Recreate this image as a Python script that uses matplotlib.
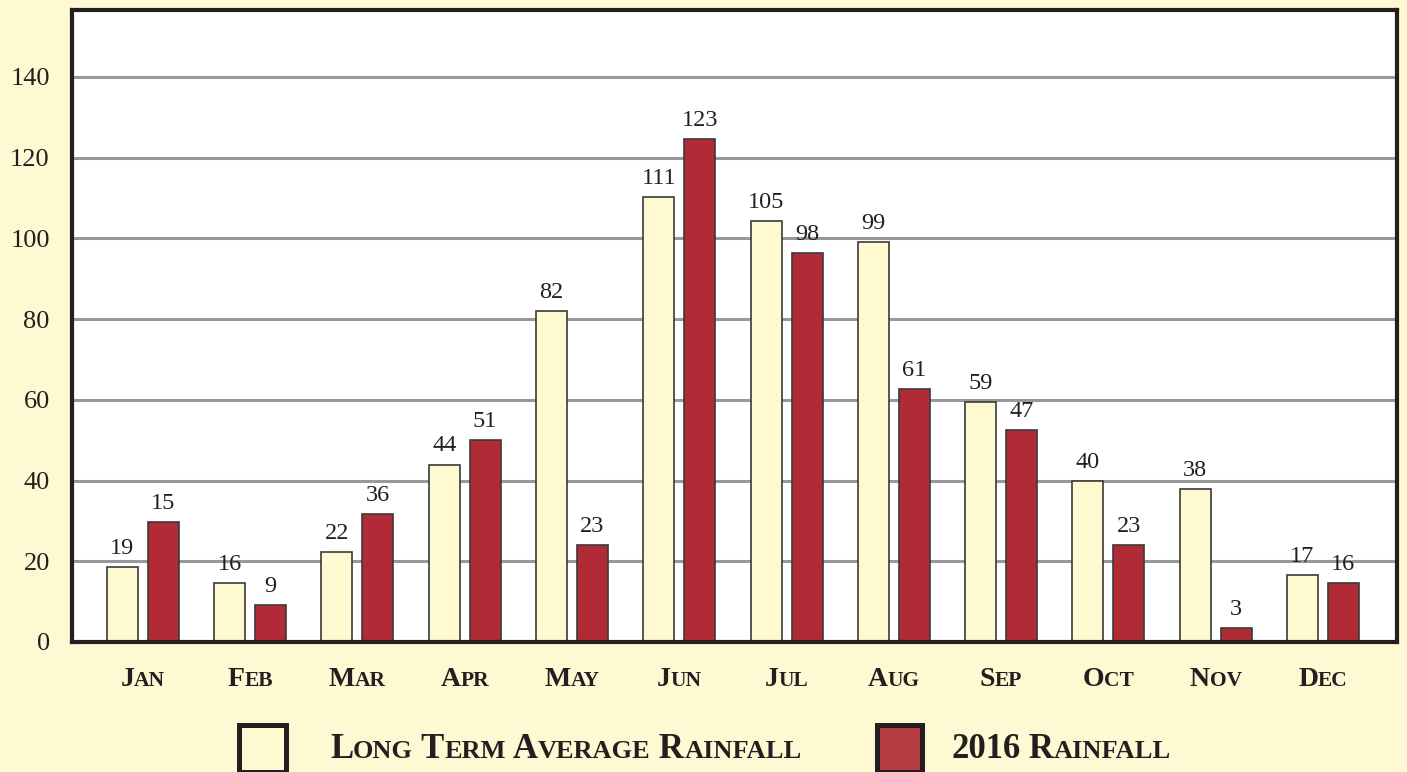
import matplotlib
matplotlib.use("Agg")
import matplotlib.pyplot as plt
import numpy as np
from matplotlib.offsetbox import TextArea, HPacker, AnnotationBbox
from matplotlib.patches import Rectangle

months = ["Jan", "Feb", "Mar", "Apr", "May", "Jun",
          "Jul", "Aug", "Sep", "Oct", "Nov", "Dec"]
# bar heights as drawn in the picture
lta_heights = [18.6, 14.6, 22.3, 43.9, 82, 110.3, 104.3, 99.1, 59.5, 39.9, 37.9, 16.6]
r2016_heights = [29.7, 9.2, 31.7, 50, 24, 124.6, 96.4, 62.7, 52.5, 24, 3.5, 14.6]
# numbers printed above the bars
lta_labels = [19, 16, 22, 44, 82, 111, 105, 99, 59, 40, 38, 17]
r2016_labels = [15, 9, 36, 51, 23, 123, 98, 61, 47, 23, 3, 16]
yticks = [0, 20, 40, 60, 80, 100, 120, 140]
legend_names = ["Long Term Average Rainfall", "2016 Rainfall"]

BG = "#fef9d3"
LTA_C = "#fff9cf"
R16_C = "#b02b36"
INK = "#231f20"
FONT = "Liberation Serif"


def small_caps(words, big, small, weight="bold"):
    kids = []
    for n, w in enumerate(words.split()):
        lead = " " if n > 0 else ""
        if w.isdigit():
            head, rest = w, ""
        else:
            head, rest = w[0].upper(), w[1:].upper()
        kids.append(TextArea(lead + head,
                             textprops=dict(fontsize=big, family=FONT, color=INK, fontweight=weight)))
        if rest:
            kids.append(TextArea(rest,
                                 textprops=dict(fontsize=small, family=FONT, color=INK, fontweight=weight)))
    return HPacker(children=kids, align="baseline", pad=0, sep=0)


fig = plt.figure(figsize=(14.07, 7.72), dpi=100, facecolor=BG)
ax = fig.add_axes([72 / 1407, 1 - 642 / 772, (1397 - 72) / 1407, (642 - 10) / 772])
ax.set_facecolor("white")

x = np.arange(len(months))
w = 0.289
off = 0.191
b1 = ax.bar(x - off, lta_heights, w, color=LTA_C, edgecolor="#3a3a3a", linewidth=1.2, zorder=3)
b2 = ax.bar(x + off, r2016_heights, w, color=R16_C, edgecolor="#3a3a3a", linewidth=1.2, zorder=3)

for bars, labs in [(b1, lta_labels), (b2, r2016_labels)]:
    for b, lab in zip(bars, labs):
        ax.annotate(str(lab), (b.get_x() + b.get_width() / 2, b.get_height()),
                    xytext=(0, 6), textcoords="offset points", ha="center", va="bottom",
                    fontsize=17.5, family=FONT, color=INK)

ax.set_xlim(-0.66, 11.69)
ax.set_ylim(0, 156.6)
ax.set_yticks(yticks)
ax.set_yticklabels([str(t) for t in yticks], fontsize=19, family=FONT, color=INK)
ax.tick_params(axis="y", length=0, pad=16)
ax.set_xticks([])
for t in yticks[1:]:
    ax.axhline(t, color="#999999", linewidth=2.2, zorder=1)
for s in ax.spines.values():
    s.set_linewidth(3)
    s.set_color(INK)
    s.set_zorder(5)

for i, m in enumerate(months):
    ab = AnnotationBbox(small_caps(m, 20, 15.5), (i, -0.06), xycoords=ax.get_xaxis_transform(),
                        box_alignment=(0.5, 0.5), frameon=False, annotation_clip=False)
    ax.add_artist(ab)

# legend
H = 772.0
Wd = 1407.0
for (x0, x1), col in [((239, 286), LTA_C), ((877, 922), "#b83d43")]:
    fig.patches.append(Rectangle((x0 / Wd, 1 - 772 / H), (x1 - x0) / Wd, 47 / H,
                                 transform=fig.transFigure, facecolor=col,
                                 edgecolor=INK, linewidth=3.6))
for name, x0 in zip(legend_names, [330, 951]):
    ab = AnnotationBbox(small_caps(name, 25, 19), (x0 / Wd, 1 - 749 / H), xycoords="figure fraction",
                        box_alignment=(0, 0.5), frameon=False, annotation_clip=False)
    fig.add_artist(ab)

fig.savefig("out.png", dpi=100, facecolor=BG)
